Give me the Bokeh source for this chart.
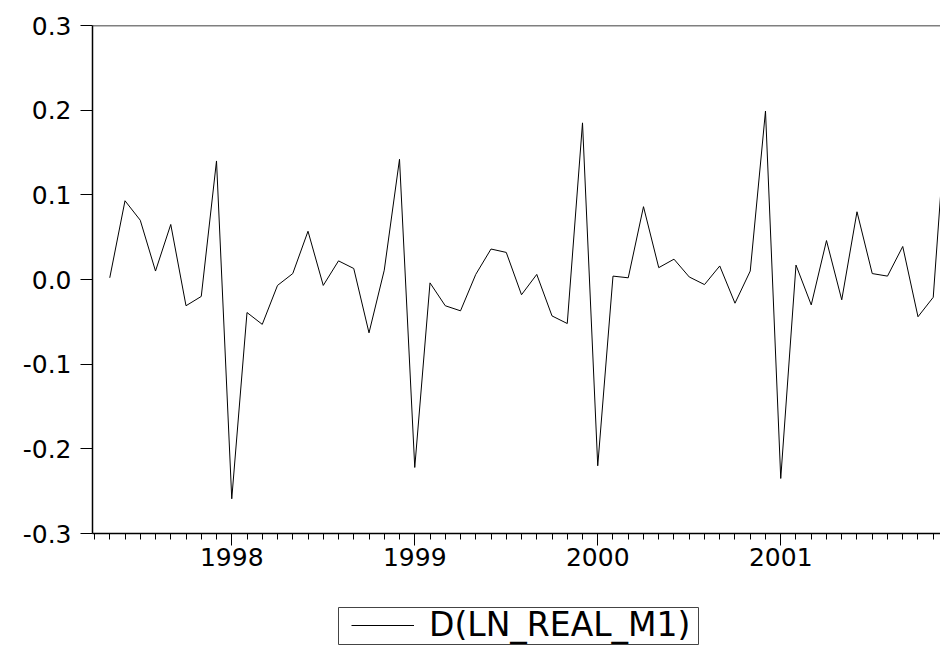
from bokeh.plotting import figure
from bokeh.layouts import column
from bokeh.models import (FixedTicker, PrintfTickFormatter, Span, Legend, LegendItem,
                          Range1d)
from bokeh.embed import file_html
from bokeh.resources import INLINE

# ---- data ----
periods = [
    "1997M05", "1997M06", "1997M07", "1997M08", "1997M09", "1997M10", "1997M11", "1997M12",
    "1998M01", "1998M02", "1998M03", "1998M04", "1998M05", "1998M06", "1998M07", "1998M08",
    "1998M09", "1998M10", "1998M11", "1998M12",
    "1999M01", "1999M02", "1999M03", "1999M04", "1999M05", "1999M06", "1999M07", "1999M08",
    "1999M09", "1999M10", "1999M11", "1999M12",
    "2000M01", "2000M02", "2000M03", "2000M04", "2000M05", "2000M06", "2000M07", "2000M08",
    "2000M09", "2000M10", "2000M11", "2000M12",
    "2001M01", "2001M02", "2001M03", "2001M04", "2001M05", "2001M06", "2001M07", "2001M08",
    "2001M09", "2001M10", "2001M11", "2001M12",
]
d_ln_real_m1 = [
    0.002, 0.093, 0.070, 0.010, 0.065, -0.031, -0.020, 0.140,
    -0.259, -0.039, -0.053, -0.007, 0.007, 0.057, -0.007, 0.022, 0.013, -0.063, 0.011, 0.142,
    -0.222, -0.004, -0.031, -0.037, 0.006, 0.036, 0.032, -0.018, 0.006, -0.043, -0.052, 0.185,
    -0.220, 0.004, 0.002, 0.086, 0.014, 0.024, 0.003, -0.006, 0.016, -0.028, 0.010, 0.199,
    -0.235, 0.017, -0.030, 0.046, -0.024, 0.080, 0.007, 0.004, 0.039, -0.044, -0.021, 0.230,
]
year_ticks = [1998, 1999, 2000, 2001]
y_ticks = [-0.3, -0.2, -0.1, 0.0, 0.1, 0.2, 0.3]
series_name = "D(LN_REAL_M1)"

# decimal-year positions of the monthly observations
x = [int(p[:4]) + (int(p[5:]) - 1) / 12.0 for p in periods]
month_ticks = [1997 + m / 12.0 for m in range(3, 60)]

FONT = "DejaVu Sans"
AXW = 1.5

p = figure(width=940, height=590, output_backend="svg", toolbar_location=None,
           x_range=Range1d(1997.239, 2001.873), y_range=Range1d(-0.3, 0.3),
           min_border_left=92, min_border_right=0, min_border_top=25,
           min_border_bottom=57)
p.outline_line_color = None
p.background_fill_color = "white"
p.border_fill_color = "white"
p.xgrid.visible = False
p.ygrid.visible = False

r = p.line(x, d_ln_real_m1, line_color="black", line_width=1)

# x axis
xa = p.xaxis[0]
xa.ticker = FixedTicker(ticks=year_ticks, minor_ticks=month_ticks)
xa.formatter = PrintfTickFormatter(format="%d")
xa.axis_line_color = "black"
xa.axis_line_width = AXW
xa.major_tick_line_color = "black"
xa.minor_tick_line_color = "black"
xa.major_tick_out = 12
xa.major_tick_in = 0
xa.minor_tick_out = 6
xa.minor_tick_in = 0
xa.major_label_standoff = 2
xa.major_label_text_font = FONT
xa.major_label_text_font_size = "25px"
xa.major_label_text_color = "black"

# y axis
ya = p.yaxis[0]
ya.ticker = FixedTicker(ticks=y_ticks, minor_ticks=[])
ya.formatter = PrintfTickFormatter(format="%.1f")
ya.axis_line_color = "black"
ya.axis_line_width = AXW
ya.major_tick_line_color = "black"
ya.major_tick_out = 12
ya.major_tick_in = 0
ya.minor_tick_line_color = None
ya.major_label_standoff = 9
ya.major_label_text_font = FONT
ya.major_label_text_font_size = "25px"
ya.major_label_text_color = "black"

# top border
p.add_layout(Span(location=0.3, dimension="width", line_color="black", line_width=AXW))

# legend strip below the chart (pixel-unit ranges, frame aligned with main frame)
lg = figure(width=940, height=58, output_backend="svg", toolbar_location=None,
            x_range=Range1d(92, 940), y_range=Range1d(0, 58),
            min_border_left=92, min_border_right=0, min_border_top=0, min_border_bottom=0)
lg.axis.visible = False
lg.xgrid.visible = False
lg.ygrid.visible = False
lg.outline_line_color = None
lg.background_fill_color = "white"
lg.border_fill_color = "white"
# legend frame box
lg.quad(left=[338], right=[698], bottom=[4], top=[41], fill_color="white",
        line_color="#444444", line_width=1)
# off-screen proxy renderer for the legend swatch
lr = lg.line([-100, -90], [-100, -90], line_color="black", line_width=1)

legend = Legend(items=[LegendItem(label=series_name, renderers=[lr])],
                location=(259, 4), orientation="horizontal",
                label_text_font=FONT, label_text_font_size="33px",
                label_text_color="black",
                glyph_width=63, glyph_height=20, label_standoff=15,
                padding=0, margin=0, spacing=0,
                border_line_color=None, background_fill_alpha=0.0)
lg.add_layout(legend, "center")

layout = column(p, lg, spacing=0)
open("out.html", "w").write(file_html(layout, INLINE))
